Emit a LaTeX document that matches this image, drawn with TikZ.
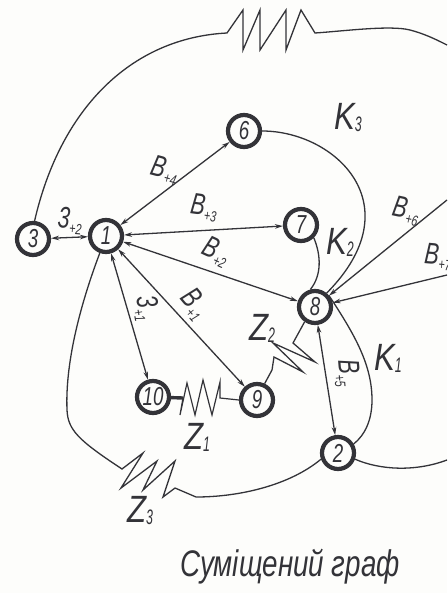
\documentclass[tikz,border=0pt]{standalone}
\usepackage{fontspec}
\setmainfont{Liberation Sans}
\usetikzlibrary{arrows.meta}
\definecolor{grInk}{HTML}{333338}
\definecolor{grPaper}{HTML}{FDFDFB}
\newcommand{\nar}[1]{\scalebox{.72}[1]{#1}}
\newcommand{\elab}[2]{\nar{#1\kern.5pt\raisebox{-5pt}{\fontsize{15}{15}\selectfont #2}}}
\newcommand{\klab}[2]{\scalebox{.82}[1]{#1\raisebox{-2pt}{\scalebox{.72}[1]{\fontsize{21}{21}\selectfont #2}}}}

\begin{document}
\begin{tikzpicture}[
  x=1pt, y=-1pt,
  every node/.style={text=grInk, font=\itshape},
  fontsize/.style={font=\itshape\fontsize{#1}{#1}\selectfont},
  vert/.style={draw=grInk, circle, line width=4.2pt, minimum size=32pt,
               inner sep=0pt, fontsize=26},
  wire/.style={draw=grInk, line width=1.3pt},
  arr/.style={wire, {Stealth[length=8pt,width=4.6pt]}-{Stealth[length=8pt,width=4.6pt]}},
  zig/.style={wire, line width=1.2pt},
  elabel/.style={fontsize=30, inner sep=0pt},
  big/.style={fontsize=38, inner sep=0pt}
]
\path[fill=grPaper, use as bounding box] (0,0) rectangle (447,593);

% vertices
\node[vert] (n3)  at (33,239)  {\nar{3}};
\node[vert] (n1)  at (106,236) {\nar{1}};
\node[vert] (n6)  at (244,131) {\nar{6}};
\node[vert] (n7)  at (301,225) {\nar{7}};
\node[vert] (n8)  at (315,307) {\nar{8}};
\node[vert] (n9)  at (257,400) {\nar{9}};
\node[vert] (n10) at (153,397) {\nar{10}};
\node[vert] (n2)  at (338,453) {\nar{2}};

% free ends at the edge of the sheet
\coordinate (e6) at (447,200);
\coordinate (e7) at (447,275);
\coordinate (e2) at (447,460);
\coordinate (e0) at (447,45);

% branches with arrows
\draw[arr] (n3) -- (n1);
\draw[arr] (n1) -- (n6);
\draw[arr] (n1) -- (n7);
\draw[arr] (n1) -- (n8);
\draw[arr] (n1) -- (n9);
\draw[arr] (n1) -- (n10);
\draw[arr] (n8) -- (n2);
\draw[wire, -{Stealth[length=8pt,width=4.6pt]}] (e6) -- (n8);
\draw[wire, -{Stealth[length=8pt,width=4.6pt]}] (e7) -- (n8);

% K branches
\draw[wire] (n6.east) .. controls (335,131) and (414,205) .. (n8.50);
\draw[wire] (n7.-45) .. controls (321,255) and (322,275) .. (n8.105);
\draw[wire] (n8.40) .. controls (355,335) and (372,365) .. (372,400)
            .. controls (372,420) and (365,435) .. (n2.30);
\draw[wire] (n2.-20) .. controls (380,470) and (415,472) .. (e2);

% Z branches
\draw[wire] (n3.85) .. controls (60,110) and (130,38) .. (227,33)
  -- (243,10) -- (243,50) -- (260,10) -- (260,50) -- (286,10) -- (286,50)
  -- (301,10) -- (315,33) .. controls (345,31) and (390,25) .. (410,30)
  .. controls (425,34) and (435,39) .. (e0);
\draw[wire] (n8.235) -- (293,343) -- (315,362) -- (273,343) -- (303,372)
  -- (274,357) -- (272,370) -- (n9.65);
\draw[wire, line width=3.4pt] (n10) -- (183,398);
\draw[zig] (183,398) -- (180,415) -- (187,383) -- (195,415) -- (203,380)
  -- (212,415) -- (220,382) -- (220,398) -- (n9.west);
\draw[wire] (n1.250) .. controls (82,300) and (65,360) .. (67,410)
  .. controls (68,430) and (78,440) .. (122,469)
  -- (143,453) -- (121,488) -- (157,461) -- (143,490) -- (175,461)
  -- (163,497) -- (175,488) -- (196,497)
  .. controls (240,497) and (290,485) .. (n2.200);

% labels
\node[elabel, rotate=-15] (lb4) at (165,170) {\elab{B}{+4}};
\node[elabel, rotate=-8]  (lb3) at (204,208) {\elab{B}{+3}};
\node[elabel, rotate=-25] (lb2) at (216,252) {\elab{B}{+2}};
\node[elabel, rotate=-50] (lb1) at (194,304) {\elab{B}{+1}};
\node[elabel, rotate=-80] (lz1) at (146,308) {\elab{3}{+1}};
\node[elabel, rotate=-5]  (lz2) at (70,221)  {\elab{3}{+2}};
\node[elabel, rotate=-85] (lb5) at (347,373) {\elab{B}{+5}};
\node[elabel, rotate=-12] (lb6) at (406,211) {\elab{B}{+6}};
\node[elabel, rotate=-5]  (lb7) at (438,257) {\elab{B}{+7}};
\node[big] (lk3) at (348,118) {\klab{K}{3}};
\node[big] (lk2) at (340,242) {\klab{K}{2}};
\node[big] (lk1) at (388,358) {\klab{K}{1}};
\node[big] (lx2) at (262,328) {\klab{Z}{2}};
\node[big] (lx1) at (197,437) {\klab{Z}{1}};
\node[big] (lx3) at (140,511) {\klab{Z}{3}};
\node[fontsize=37, inner sep=0pt] (title) at (290,567) {\scalebox{.75}[1]{Суміщений граф}};
\end{tikzpicture}
\end{document}
